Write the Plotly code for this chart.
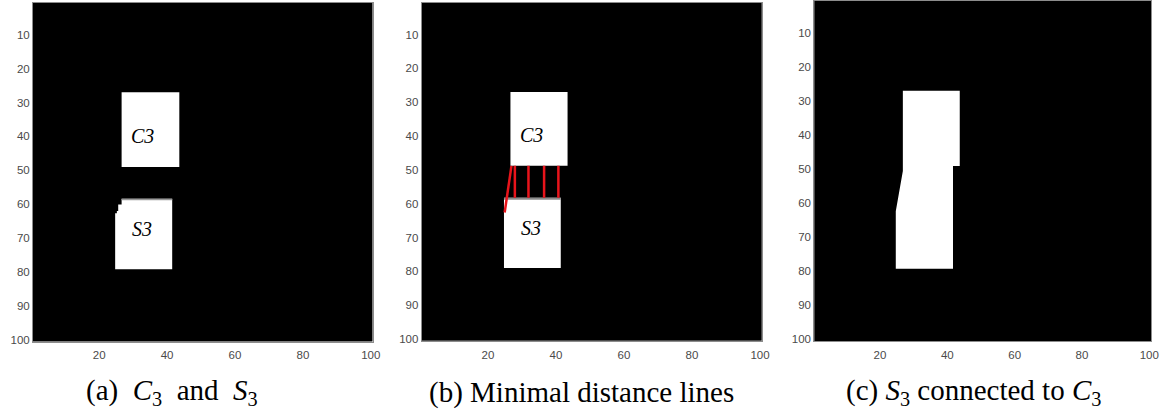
import plotly.graph_objects as go

W, H = 1160, 409

# ---- data (image pixel coordinates, y grows downward) ----
xticks = [20, 40, 60, 80, 100]
yticks = [10, 20, 30, 40, 50, 60, 70, 80, 90, 100]

# Panel (a)
a_c3_x = [26.6, 43.6, 43.6, 26.6]
a_c3_y = [27.0, 27.0, 49.0, 49.0]
a_s3_x = [26.6, 41.5, 41.5, 24.7, 24.7, 25.2, 25.2, 25.6, 25.6, 26.6]
a_s3_y = [58.4, 58.4, 79.2, 79.2, 62.7, 62.7, 62.0, 62.0, 60.1, 60.1]

# Panel (b)
b_c3_x = [26.6, 43.4, 43.4, 26.6]
b_c3_y = [27.0, 27.0, 48.8, 48.8]
b_s3_x = [24.7, 41.4, 41.4, 24.7]
b_s3_y = [58.2, 58.2, 79.0, 79.0]
b_slant_x = [26.9, 24.9]
b_slant_y = [48.8, 62.6]
b_vert_x = [27.9, 31.9, 36.5, 40.7]
b_vert_top = [48.8, 48.8, 48.8, 48.8]
b_vert_bot = [58.2, 58.2, 58.2, 58.2]

# Panel (c)
c_shape_x = [26.8, 43.7, 43.7, 41.7, 41.7, 24.7, 24.7, 26.8]
c_shape_y = [27.0, 27.0, 49.1, 49.1, 79.3, 79.3, 62.4, 50.6]

labels = ["C3", "S3"]
label_x = [32.7, 32.6]
label_y = [39.8, 67.3]

captions = ["(a)&nbsp; <i>C</i><sub>3</sub>&nbsp; and&nbsp; <i>S</i><sub>3</sub>",
            "(b) Minimal distance lines",
            "(c) <i>S</i><sub>3</sub> connected to <i>C</i><sub>3</sub>"]
caption_x = [172, 582, 973]

# ---- layout geometry (pixels) ----
panels = [
    dict(x0=33, x1=372.5, y0=2.5, y1=341.5),
    dict(x0=421.7, x1=761.7, y0=2.5, y1=340.7),
    dict(x0=814.3, x1=1151, y0=0.5, y1=341),
]

fig = go.Figure()

def poly(xs, ys, k, color="white"):
    fig.add_trace(go.Scatter(
        x=xs + [xs[0]], y=ys + [ys[0]], mode="lines", fill="toself",
        fillcolor=color, line=dict(color=color, width=0),
        xaxis="x" if k == 1 else f"x{k}", yaxis="y" if k == 1 else f"y{k}",
        hoverinfo="skip", showlegend=False))

def line(xs, ys, k, color, width):
    fig.add_trace(go.Scatter(
        x=xs, y=ys, mode="lines", line=dict(color=color, width=width),
        xaxis="x" if k == 1 else f"x{k}", yaxis="y" if k == 1 else f"y{k}",
        hoverinfo="skip", showlegend=False))

# panel a
poly(a_c3_x, a_c3_y, 1)
poly(a_s3_x, a_s3_y, 1)
line([26.6, 41.5], [58.6, 58.6], 1, "#9a9a9a", 1.5)

# panel b
poly(b_c3_x, b_c3_y, 2)
poly(b_s3_x, b_s3_y, 2)
line([24.7, 41.4], [58.5, 58.5], 2, "#8a8a8a", 2)
line(b_slant_x, b_slant_y, 2, "#e8141b", 2.5)
for vx, t, b in zip(b_vert_x, b_vert_top, b_vert_bot):
    line([vx, vx], [t, b], 2, "#e8141b", 2.5)

# panel c
poly(c_shape_x, c_shape_y, 3)

layout = dict(
    template="none",
    width=W, height=H, margin=dict(l=0, r=0, t=0, b=0),
    paper_bgcolor="white", plot_bgcolor="black", showlegend=False,
)
tick_font = dict(family="Liberation Sans, Arial", size=11.5, color="#4a4a4a")
for i, p in enumerate(panels, start=1):
    sx = "" if i == 1 else str(i)
    layout[f"xaxis{sx}"] = dict(
        domain=[p["x0"] / W, p["x1"] / W], range=[0.5, 100.5],
        tickvals=xticks, ticktext=[str(v) for v in xticks],
        showgrid=False, zeroline=False, showline=True, mirror=True,
        linecolor="#8c8c8c", linewidth=1, ticks="", ticklabelstandoff=3,
        ticklabeloverflow="allow",
        tickfont=tick_font, anchor=f"y{sx}", fixedrange=True,
    )
    layout[f"yaxis{sx}"] = dict(
        domain=[1 - p["y1"] / H, 1 - p["y0"] / H], range=[100.5, 0.5],
        tickvals=yticks, ticktext=[str(v) for v in yticks],
        showgrid=False, zeroline=False, showline=True, mirror=True,
        linecolor="#8c8c8c", linewidth=1, ticks="", ticklabeloverflow="allow",
        tickfont=tick_font, anchor=f"x{sx}", fixedrange=True,
    )

annotations = []
for k in (1, 2):
    sx = "" if k == 1 else str(k)
    for t, lx, ly in zip(labels, label_x, label_y):
        annotations.append(dict(
            x=lx, y=ly, xref=f"x{sx}", yref=f"y{sx}", text=f"<i>{t}</i>",
            showarrow=False, font=dict(family="Liberation Serif", size=20, color="black"),
            xanchor="center", yanchor="middle"))
for t, cx in zip(captions, caption_x):
    annotations.append(dict(
        x=cx / W, y=1 - 392 / H, xref="paper", yref="paper", text=t,
        showarrow=False, font=dict(family="Liberation Serif", size=29, color="black"),
        xanchor="center", yanchor="middle"))
layout["annotations"] = annotations

fig.update_layout(**layout)
fig.write_html("out.html")
